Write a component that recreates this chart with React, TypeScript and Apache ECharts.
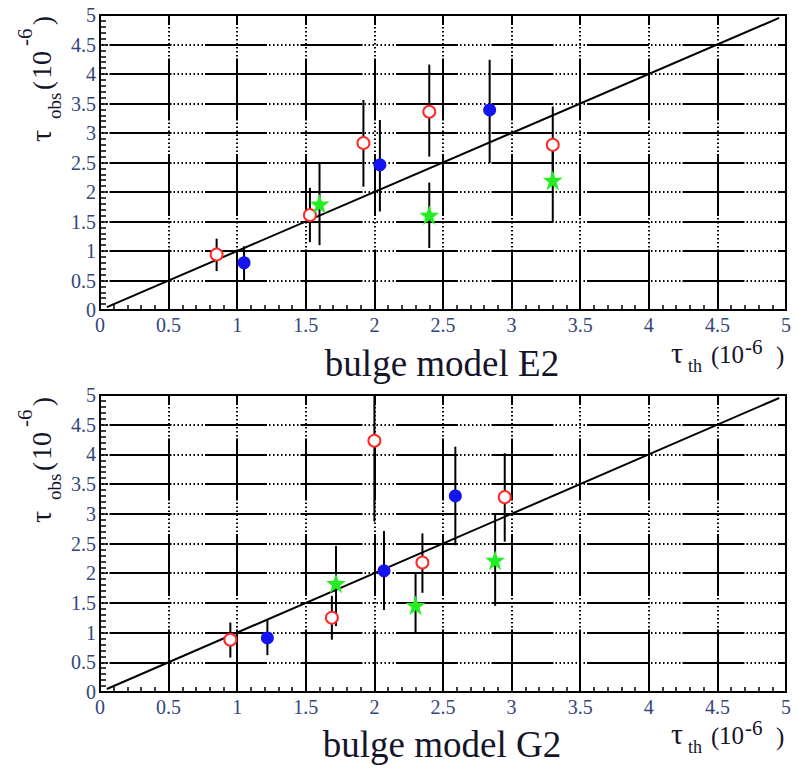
import React, { useEffect, useRef } from "react";
import * as echarts from "echarts";

// ---------- data: top panel (bulge model E2) ----------
const e2RedX = [0.85, 1.53, 1.92, 2.4, 3.3];
const e2RedY = [0.94, 1.61, 2.83, 3.36, 2.8];
const e2RedLo = [0.66, 1.15, 2.09, 2.6, 2.15];
const e2RedHi = [1.21, 2.07, 3.56, 4.16, 3.45];
const e2BlueX = [1.05, 2.04, 2.84];
const e2BlueY = [0.8, 2.46, 3.39];
const e2BlueLo = [0.48, 1.67, 2.49];
const e2BlueHi = [1.08, 3.22, 4.24];
const e2GreenX = [1.6, 2.4, 3.3];
const e2GreenY = [1.8, 1.61, 2.2];
const e2GreenLo = [1.1, 1.05, 1.5];
const e2GreenHi = [2.49, 2.16, 2.85];

// ---------- data: bottom panel (bulge model G2) ----------
const g2RedX = [0.95, 1.69, 2.0, 2.35, 2.95];
const g2RedY = [0.88, 1.25, 4.23, 2.18, 3.28];
const g2RedLo = [0.58, 0.88, 2.87, 1.67, 2.53];
const g2RedHi = [1.17, 1.62, 5.0, 2.67, 4.02];
const g2BlueX = [1.22, 2.07, 2.59];
const g2BlueY = [0.91, 2.04, 3.3];
const g2BlueLo = [0.62, 1.38, 2.47];
const g2BlueHi = [1.21, 2.71, 4.13];
const g2GreenX = [1.72, 2.3, 2.88];
const g2GreenY = [1.83, 1.46, 2.22];
const g2GreenLo = [1.11, 0.99, 1.45];
const g2GreenHi = [2.46, 2.0, 2.99];

// diagonal tau_obs = tau_th
const diagX = [0.05, 4.95];
const diagY = [0.05, 4.95];

const panelTitles = ["bulge model E2", "bulge model G2"];

const STAR =
  "path://M50,2 L61.8,36.2 L97.6,36.2 L68.6,57.4 L79.4,91.6 L50,70.4 L20.6,91.6 L31.4,57.4 L2.4,36.2 L38.2,36.2 Z";

const SERIF = "Liberation Serif";
const TICK_COLOR = "#34467a";
const TEXT_COLOR = "#15152a";

const DASH = [62, 2, 1.5, 2.5, 1.5, 2.5, 1.5, 2.5, 1.5, 2.5, 1.5, 2.5, 1.5, 2.5, 1.5, 2.5, 1.5, 2];

const zip = (a: number[], b: number[]) => a.map((v, i) => [v, b[i]]);

function errorSeries(idx: number, xs: number[], lo: number[], hi: number[]) {
  return {
    type: "custom",
    xAxisIndex: idx,
    yAxisIndex: idx,
    clip: true,
    z: 3,
    data: xs.map((x, i) => [x, lo[i], hi[i]]),
    renderItem: (_p: any, api: any) => {
      const a = api.coord([api.value(0), api.value(1)]);
      const b = api.coord([api.value(0), api.value(2)]);
      return {
        type: "line",
        shape: { x1: a[0], y1: a[1], x2: b[0], y2: b[1] },
        style: { stroke: "#000", lineWidth: 2 },
      };
    },
  };
}

function panelSeries(idx: number, red: number[][], blue: number[][], green: number[][]) {
  const [rx, ry, rlo, rhi] = red;
  const [bx, by, blo, bhi] = blue;
  const [gx, gy, glo, ghi] = green;
  return [
    errorSeries(idx, rx, rlo, rhi),
    errorSeries(idx, bx, blo, bhi),
    errorSeries(idx, gx, glo, ghi),
    {
      type: "line",
      xAxisIndex: idx,
      yAxisIndex: idx,
      data: zip(diagX, diagY),
      symbol: "none",
      lineStyle: { color: "#000", width: 2 },
      z: 4,
    },
    {
      type: "scatter",
      xAxisIndex: idx,
      yAxisIndex: idx,
      data: zip(rx, ry),
      symbol: "circle",
      symbolSize: 12,
      itemStyle: { color: "#ffffff", borderColor: "#ff2a2a", borderWidth: 2, opacity: 1 },
      z: 5,
    },
    {
      type: "scatter",
      xAxisIndex: idx,
      yAxisIndex: idx,
      data: zip(bx, by),
      symbol: "circle",
      symbolSize: 13,
      itemStyle: { color: "#1414f0", opacity: 1 },
      z: 5,
    },
    {
      type: "scatter",
      xAxisIndex: idx,
      yAxisIndex: idx,
      data: zip(gx, gy),
      symbol: STAR,
      symbolSize: 20,
      itemStyle: { color: "#22ee22", opacity: 1 },
      z: 5,
    },
  ];
}

function xAxisFor(idx: number) {
  return {
    type: "value",
    gridIndex: idx,
    min: 0,
    max: 5,
    interval: 0.5,
    axisLine: { show: false },
    axisTick: { show: true, inside: true, length: 8, lineStyle: { color: "#000", width: 1.5 } },
    minorTick: { show: true, splitNumber: 5, length: 5, lineStyle: { color: "#000", width: 1.5 } },
    splitLine: { show: true, lineStyle: { color: "#000", width: 2, type: DASH, dashOffset: 52 } },
    axisLabel: { color: TICK_COLOR, fontFamily: SERIF, fontSize: 20, margin: 5 },
  };
}

function yAxisFor(idx: number) {
  return {
    type: "value",
    gridIndex: idx,
    min: 0,
    max: 5,
    interval: 0.5,
    axisLine: { show: false },
    axisTick: { show: true, inside: true, length: 8, lineStyle: { color: "#000", width: 1.5 } },
    minorTick: { show: true, splitNumber: 5, length: 6, lineStyle: { color: "#000", width: 1.5 } },
    splitLine: { show: true, lineStyle: { color: "#000", width: 2, type: DASH, dashOffset: 85.5 } },
    axisLabel: { color: TICK_COLOR, fontFamily: SERIF, fontSize: 20, margin: 4 },
  };
}

// text piece positioned by its left edge and alphabetic baseline
function piece(text: string, x: number, baseline: number, size: number, align = "left", color = TEXT_COLOR) {
  return {
    type: "text",
    x,
    y: baseline - 0.34 * size,
    z: 10,
    style: {
      text,
      fontFamily: SERIF,
      fontSize: size,
      fill: color,
      textAlign: align,
      textVerticalAlign: "middle",
    },
  };
}

function panelTexts(dy: number, title: string) {
  const items: any[] = [];
  // panel title
  items.push(piece(title, 442, 376 + dy, 37, "center"));
  // x-axis title: tau_th (10^-6)
  items.push(piece("τ", 671, 363 + dy, 30));
  items.push(piece("th", 688, 372 + dy, 18));
  items.push(piece("(", 711, 364 + dy, 25));
  items.push(piece("10", 719, 363 + dy, 25));
  items.push(piece("-6", 745, 354 + dy, 21));
  items.push(piece(")", 776, 364 + dy, 25));
  // y-axis title rotated: local x runs upward from screen y=142, local y=0 is baseline at screen x=51
  items.push({
    type: "group",
    x: 51,
    y: 142 + dy,
    rotation: Math.PI / 2,
    children: [
      piece("τ", 0, 0, 30),
      piece("obs", 23, 10, 19),
      piece("(", 52, 1, 27),
      piece("10", 63, 0, 28),
      piece("-6", 96, -19, 21),
      piece(")", 117, 1, 27),
    ],
  });
  return items;
}

export default function App() {
  const ref = useRef<HTMLDivElement>(null);
  useEffect(() => {
    if (!ref.current) return;
    const chart = echarts.init(ref.current, null, { renderer: "svg" });
    const option: any = {
      animation: false,
      backgroundColor: "#ffffff",
      textStyle: { fontFamily: SERIF },
      grid: [
        { left: 100, top: 15, width: 686, height: 295, show: true, borderColor: "#000", borderWidth: 2, backgroundColor: "transparent" },
        { left: 100, top: 395, width: 686, height: 297, show: true, borderColor: "#000", borderWidth: 2, backgroundColor: "transparent" },
      ],
      xAxis: [xAxisFor(0), xAxisFor(1)],
      yAxis: [yAxisFor(0), yAxisFor(1)],
      series: [
        ...panelSeries(
          0,
          [e2RedX, e2RedY, e2RedLo, e2RedHi],
          [e2BlueX, e2BlueY, e2BlueLo, e2BlueHi],
          [e2GreenX, e2GreenY, e2GreenLo, e2GreenHi]
        ),
        ...panelSeries(
          1,
          [g2RedX, g2RedY, g2RedLo, g2RedHi],
          [g2BlueX, g2BlueY, g2BlueLo, g2BlueHi],
          [g2GreenX, g2GreenY, g2GreenLo, g2GreenHi]
        ),
      ],
      graphic: [...panelTexts(0, panelTitles[0]), ...panelTexts(381, panelTitles[1])],
    };
    chart.setOption(option);
    return () => chart.dispose();
  }, []);
  return (
    <div
      ref={ref}
      style={{ position: "absolute", left: 0, top: 0, width: 798, height: 770, background: "#fff" }}
    />
  );
}
